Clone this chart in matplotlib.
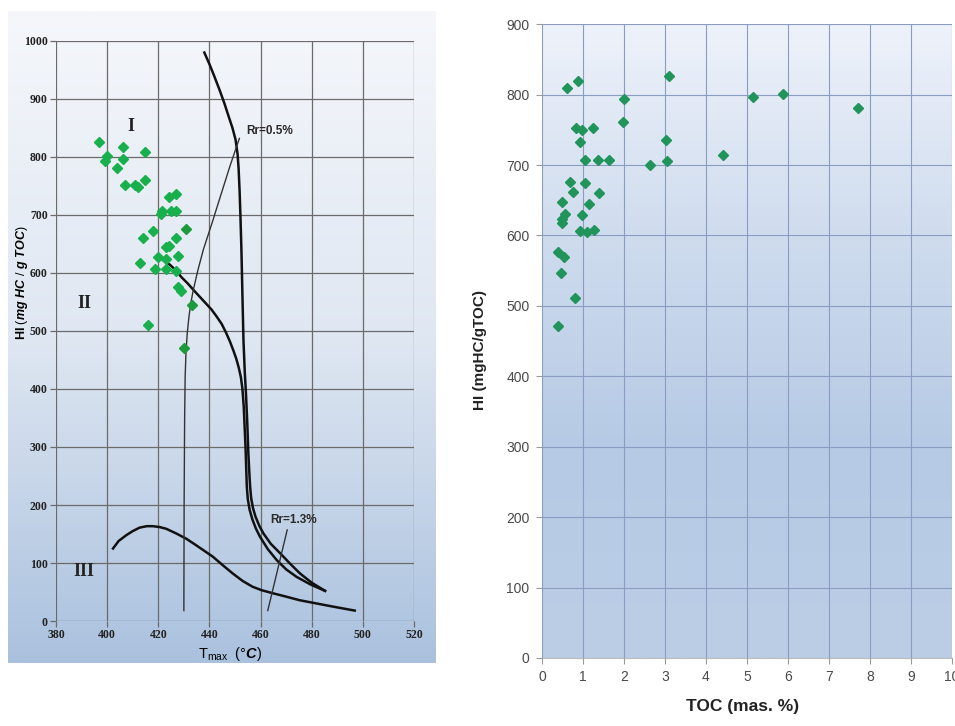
import matplotlib
matplotlib.use('Agg')
import matplotlib.pyplot as plt
import numpy as np
from matplotlib.colors import LinearSegmentedColormap

plt.rcParams['mathtext.fontset'] = 'custom'
plt.rcParams['mathtext.rm'] = 'Liberation Sans'
plt.rcParams['mathtext.it'] = 'Liberation Sans:italic:bold'

# %% data - left panel (HI vs Tmax)
tmax = [397.0, 399.2, 400.1, 406.1, 406.1, 404.0, 414.9, 407.1, 410.9, 411.9,
        414.9, 424.0, 427.1, 420.9, 421.6, 424.9, 427.0, 418.1, 414.2, 427.1,
        423.1, 424.0, 427.9, 420.0, 423.1, 412.9, 418.8, 423.1, 427.0, 427.9,
        429.0, 416.1]
hi_left = [826, 793, 801, 817, 796, 781, 809, 752, 751, 749,
           760, 731, 736, 702, 706, 706, 706, 673, 660, 660,
           644, 647, 629, 628, 624, 617, 607, 606, 603, 575,
           569, 510]
tmax_dark = [430.9, 433.0, 429.9]
hi_dark = [675, 545, 471]

type1_x = [438.0, 440.0, 442.0, 444.0, 445.8, 447.5, 449.0, 450.2, 451.0, 451.4,
           451.8, 452.1, 452.5, 452.9, 453.3, 453.8, 454.3, 454.8, 455.2, 455.6,
           455.9, 456.3, 457.0, 458.0, 459.5, 461.1, 464.0, 467.6, 471.5, 475.4,
           480.0, 485.2]
type1_y = [980, 960, 938, 915, 893, 870, 850, 830, 805, 780,
           740, 700, 640, 560, 484, 430, 390, 340, 290, 255,
           232, 212, 195, 180, 164, 151, 133, 117, 99, 82,
           66, 52]
type2_x = [420.0, 422.0, 424.6, 427.0, 429.0, 431.5, 433.7, 436.0, 438.5, 440.8,
           442.8, 444.8, 446.5, 448.0, 449.3, 450.5, 451.5, 452.3, 452.9, 453.4,
           453.8, 454.1, 454.4, 454.6, 455.0, 455.7, 456.8, 458.2, 459.8, 462.8,
           466.3, 470.0, 474.1, 479.5, 485.2]
type2_y = [628, 622, 614, 604, 593, 582, 571, 560, 548, 537,
           525, 512, 497, 482, 467, 452, 436, 420, 400, 370,
           330, 300, 260, 232, 210, 192, 175, 159, 145, 124,
           105, 89, 76, 63, 52]
type3_x = [402.3, 404.5, 407.5, 410.0, 412.7, 415.5, 417.9, 420.5, 423.1, 427.0,
           430.9, 434.0, 437.5, 441.3, 445.0, 449.1, 453.0, 456.9, 460.5, 464.7,
           470.0, 475.1, 481.0, 488.1, 496.8]
type3_y = [125, 138, 148, 155, 161, 163.5, 163.5, 162, 159, 151,
           142, 133, 122.5, 111, 97, 82, 69, 59, 53, 48,
           42, 36, 31, 25, 18]
rr05_x = [430.0, 430.1, 430.3, 430.5, 430.8, 431.3, 432.0, 432.8, 433.7, 435.5,
          437.6, 441.0, 444.5, 448.0, 451.7]
rr05_y = [18, 200, 350, 420, 460, 495, 525, 550, 571, 605,
          640, 686, 735, 784, 832]
rr13_x = [462.8, 470.4]
rr13_y = [18, 157]

# %% data - right panel (HI vs TOC)
toc = [0.62, 0.89, 2.00, 1.97, 0.83, 0.97, 1.24, 0.93, 1.05, 1.37,
       1.64, 0.68, 1.05, 0.76, 1.40, 1.15, 0.48, 0.97, 0.56, 0.50,
       0.48, 0.93, 1.09, 1.27, 0.40, 0.54, 0.46, 0.80, 0.40, 3.10,
       3.03, 3.04, 2.63, 4.41, 5.15, 5.89, 7.72]
hi_right = [810, 819, 794, 761, 752, 750, 752, 732, 707, 707,
            707, 676, 675, 662, 660, 644, 648, 629, 631, 624,
            617, 607, 605, 608, 577, 570, 547, 511, 472, 827,
            736, 705, 700, 714, 797, 801, 781]

# %%
fig = plt.figure(figsize=(9.55, 7.26), dpi=100)

# left panel gradient backdrop
bg = fig.add_axes([0.0084, 0.0868, 0.448, 0.898], zorder=0)
cmap_l = LinearSegmentedColormap.from_list('l', ['#f5f7fb', '#dfe7f2', '#aac1de'])
bg.imshow(np.linspace(0, 1, 256).reshape(-1, 1), aspect='auto', cmap=cmap_l,
          extent=[0, 1, 0, 1])
bg.axis('off')

ax1 = fig.add_axes([0.0586, 0.1446, 0.375, 0.799], zorder=1)
ax1.set_facecolor('none')
ax1.set_xlim(380, 520)
ax1.set_ylim(0, 1000)
ax1.set_xticks(np.arange(380, 521, 20))
ax1.set_yticks(np.arange(0, 1001, 100))
ax1.grid(True, color='#6b6b6b', lw=0.9)
for s in ax1.spines.values():
    s.set_visible(False)
ax1.tick_params(length=4, width=0.9, color='#6b6b6b', pad=2)
for lab in ax1.get_xticklabels() + ax1.get_yticklabels():
    lab.set_family('Liberation Serif')
    lab.set_fontweight('bold')
    lab.set_fontsize(8.5)
    lab.set_color('#222222')

ax1.plot(type1_x, type1_y, color='#111111', lw=1.8, zorder=3)
ax1.plot(type2_x, type2_y, color='#111111', lw=1.8, zorder=3)
ax1.plot(type3_x, type3_y, color='#111111', lw=1.8, zorder=3)
ax1.plot(rr05_x, rr05_y, color='#333333', lw=1.0, zorder=3)
ax1.plot(rr13_x, rr13_y, color='#333333', lw=1.0, zorder=3)
ax1.plot(tmax, hi_left, 'D', color='#17b04c', ms=5.2, mec='#17b04c', zorder=4)
ax1.plot(tmax_dark, hi_dark, 'D', color='#1c9a3c', ms=5.2, mec='#1c9a3c', zorder=4)

roman = dict(family='Liberation Serif', fontweight='bold', fontsize=13, color='#222222',
             ha='center', va='center')
ax1.text(409.2, 853, 'I', **roman)
ax1.text(391, 548, 'II', **roman)
ax1.text(391, 85, 'III', **roman)
ax1.text(454.3, 845, 'Rr=0.5%', family='Liberation Sans', fontweight='bold', fontsize=8.5,
         color='#2a2a2a', va='center')
ax1.text(463.8, 174, 'Rr=1.3%', family='Liberation Sans', fontweight='bold', fontsize=8.5,
         color='#2a2a2a', va='center')

ax1.set_ylabel(r'HI $(mg\ HC\ /\ g\ TOC)$', family='Liberation Sans', fontweight='bold',
               fontsize=9)
ax1.yaxis.set_label_coords(-0.073, 0.584)
ax1.set_xlabel(r'T$_{\mathrm{max}}$  $(°C)$', family='Liberation Sans', fontsize=10.5)
ax1.xaxis.set_label_coords(0.486, -0.041)

# right panel
ax2 = fig.add_axes([0.5675, 0.0937, 0.4293, 0.873])
cmap_r = LinearSegmentedColormap.from_list('r', ['#eef2fa', '#cfdcee', '#b6cae5', '#bccee6'])
ax2.imshow(np.linspace(0, 1, 256).reshape(-1, 1), aspect='auto', cmap=cmap_r,
           extent=[0, 10, 0, 900], zorder=0)
ax2.set_xlim(0, 10)
ax2.set_ylim(0, 900)
ax2.set_xticks(np.arange(0, 11, 1))
ax2.set_yticks(np.arange(0, 901, 100))
ax2.grid(True, color='#8a9cc2', lw=0.8)
ax2.set_axisbelow(False)
for s in ax2.spines.values():
    s.set_visible(False)
ax2.spines['bottom'].set_visible(True)
ax2.spines['bottom'].set_color('#bdbdbd')
ax2.tick_params(length=4, color='#9a9a9a', labelsize=10, labelcolor='#4a4a4a', pad=5)
for lab in ax2.get_xticklabels() + ax2.get_yticklabels():
    lab.set_family('Liberation Sans')
ax2.plot(toc, hi_right, 'D', color='#21945b', ms=5, mec='#21945b', zorder=4)

ax2.set_xlabel('TOC (mas. %)', family='Liberation Sans', fontweight='bold', fontsize=12.5,
               color='#222222')
ax2.xaxis.set_label_coords(0.49, -0.065)
ax2.set_ylabel('HI (mgHC/gTOC)', family='Liberation Sans', fontweight='bold', fontsize=11,
               color='#222222')
ax2.yaxis.set_label_coords(-0.134, 0.486)

fig.savefig('out.png', dpi=100)
